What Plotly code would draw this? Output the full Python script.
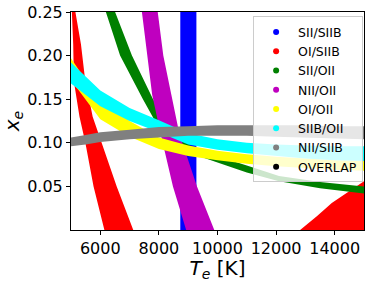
import plotly.graph_objects as go

# ---------------- data ----------------
series_names = ["SII/SIIB", "OI/SIIB", "SII/OII", "NII/OII", "OI/OII", "SIIB/OII", "NII/SIIB", "OVERLAP"]
series_colors = ["#0000ff", "#ff0000", "#008000", "#bf00bf", "#ffff00", "#00ffff", "#808080", "#000000"]

x_ticks = [6000, 8000, 10000, 12000, 14000]
y_ticks = [0.05, 0.10, 0.15, 0.20, 0.25]

# SII/SIIB (blue) : nearly vertical band, T edges at given x_e
blue_xe = [0.0, 0.25]
blue_T_lo = [8730, 8730]
blue_T_hi = [9280, 9280]

# OI/SIIB (red) : steep band on the left
red_xe = [0.25, 0.213, 0.17, 0.15, 0.13, 0.10, 0.05, 0.0]
red_T_lo = [5030, 5075, 5100, 5200, 5290, 5490, 5770, 6140]
red_T_hi = [5150, 5340, 5490, 5620, 5740, 6055, 6560, 7125]
# OI/SIIB (red) : second branch, lower right corner (edge, filled to x_e = 0)
red2_T = [12820, 13400, 13900, 14500, 15000]
red2_xe = [0.0, 0.016, 0.031, 0.045, 0.056]

# SII/OII (green)
green_lo_T = [6190, 6675, 7455, 8000, 8600, 9100, 9500, 11000, 12100, 13500, 15000]
green_lo_xe = [0.25, 0.20, 0.15, 0.117, 0.099, 0.089, 0.083, 0.066, 0.056, 0.048, 0.042]
green_hi_T = [6505, 7080, 7800, 8300, 8700, 9100, 9500, 11000, 12100, 13500, 15000]
green_hi_xe = [0.25, 0.20, 0.15, 0.123, 0.106, 0.096, 0.090, 0.074, 0.062, 0.055, 0.050]

# NII/OII (magenta)
mag_xe = [0.25, 0.20, 0.155, 0.11, 0.09, 0.05, 0.0]
mag_T_lo = [7420, 7600, 7770, 8060, 8200, 8480, 8930]
mag_T_hi = [7960, 8150, 8425, 8700, 8900, 9300, 9890]

# near-horizontal bands on a common temperature grid
T_grid = [5000, 5500, 6000, 7000, 8000, 9000, 10000, 11000, 12000, 13000, 14000, 15000]
# OI/OII (yellow)
yel_lo = [0.172, 0.150, 0.127, 0.107, 0.093, 0.085, 0.080, 0.076, 0.073, 0.071, 0.069, 0.068]
yel_hi = [0.197, 0.172, 0.152, 0.125, 0.106, 0.097, 0.091, 0.087, 0.084, 0.082, 0.080, 0.079]
# SIIB/OII (cyan)
cyan_lo = [0.168, 0.155, 0.142, 0.125, 0.112, 0.098, 0.092, 0.088, 0.085, 0.082, 0.080, 0.079]
cyan_hi = [0.192, 0.176, 0.160, 0.140, 0.126, 0.111, 0.104, 0.100, 0.098, 0.097, 0.096, 0.096]
# NII/SIIB (gray)
gray_lo = [0.096, 0.098, 0.101, 0.104, 0.106, 0.108, 0.108, 0.108, 0.107, 0.106, 0.105, 0.104]
gray_hi = [0.106, 0.109, 0.112, 0.115, 0.118, 0.119, 0.120, 0.120, 0.120, 0.120, 0.119, 0.119]

x_range = [5000, 15000]
y_range = [0.0, 0.25]

FONT = "DejaVu Sans"


def poly(lo_x, lo_y, hi_x, hi_y):
    xs = list(lo_x) + list(reversed(hi_x))
    ys = list(lo_y) + list(reversed(hi_y))
    return xs, ys


fig = go.Figure()


def add_band(xs, ys, color):
    fig.add_trace(go.Scatter(x=xs, y=ys, mode="lines", fill="toself",
                             fillcolor=color, line=dict(width=0, color=color),
                             hoverinfo="skip", showlegend=False))


c = dict(zip(series_names, series_colors))

# blue
xs, ys = poly(blue_T_lo, blue_xe, blue_T_hi, blue_xe)
add_band(xs, ys, c["SII/SIIB"])
# red
xs, ys = poly(red_T_lo, red_xe, red_T_hi, red_xe)
add_band(xs, ys, c["OI/SIIB"])
fig.add_trace(go.Scatter(x=red2_T, y=red2_xe, mode="lines", fill="tozeroy",
                         fillcolor=c["OI/SIIB"], line=dict(width=0, color=c["OI/SIIB"]),
                         hoverinfo="skip", showlegend=False))
# green
xs, ys = poly(green_lo_T, green_lo_xe, green_hi_T, green_hi_xe)
add_band(xs, ys, c["SII/OII"])
# magenta
xs, ys = poly(mag_T_lo, mag_xe, mag_T_hi, mag_xe)
add_band(xs, ys, c["NII/OII"])
# yellow
xs, ys = poly(T_grid, yel_lo, T_grid, yel_hi)
add_band(xs, ys, c["OI/OII"])
# cyan
xs, ys = poly(T_grid, cyan_lo, T_grid, cyan_hi)
add_band(xs, ys, c["SIIB/OII"])
# gray
xs, ys = poly(T_grid, gray_lo, T_grid, gray_hi)
add_band(xs, ys, c["NII/SIIB"])

# legend entries (dots)
for name, col in zip(series_names, series_colors):
    fig.add_trace(go.Scatter(x=[None], y=[None], mode="markers", name=name,
                             marker=dict(color=col, size=6)))

axis_common = dict(showgrid=False, zeroline=False, showline=True, mirror=True,
                   linecolor="black", linewidth=1, ticks="outside", ticklen=4,
                   tickcolor="black", automargin=False,
                   tickfont=dict(family=FONT, size=16, color="black"))

fig.update_layout(
    width=371, height=282,
    margin=dict(l=71, r=7, t=12, b=52, autoexpand=False),
    plot_bgcolor="white", paper_bgcolor="white",
    font=dict(family=FONT, color="black"),
    xaxis=dict(range=x_range, tickvals=x_ticks, ticktext=[str(v) for v in x_ticks],
               title=dict(text="<i>T</i><sub><i>e</i></sub> [K]", font=dict(size=20), standoff=2),
               **axis_common),
    yaxis=dict(range=y_range, tickvals=y_ticks, ticktext=["%.2f" % v for v in y_ticks],
               title=dict(text="<i>x</i><sub><i>e</i></sub>", font=dict(size=20), standoff=4),
               **axis_common),
    legend=dict(x=0.997, y=0.98, xanchor="right", yanchor="top",
                bgcolor="rgba(255,255,255,0.8)", bordercolor="#cccccc", borderwidth=1,
                itemwidth=34,
                font=dict(family=FONT, size=12.5, color="black"), tracegroupgap=0),
    showlegend=True,
)

fig.write_html("out.html", config={"displayModeBar": False},
               post_script="document.body.style.margin='0px';")
